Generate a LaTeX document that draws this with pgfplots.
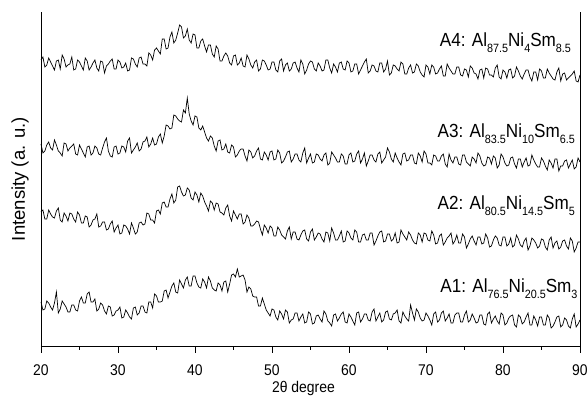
\documentclass[border=0pt]{standalone}
\usepackage{pgfplots}
\pgfplotsset{compat=1.18}
\usepackage{fontspec}
\setmainfont{Liberation Sans}
\newfontfamily\nf{Liberation Sans}[FakeStretch=0.9]
\newcommand\sub[1]{\raisebox{-6pt}{\fontsize{12}{12}\selectfont #1}}
\begin{document}
\begin{tikzpicture}
\path[use as bounding box] (-41pt,-50pt) rectangle (546pt,346pt);
\begin{axis}[
  scale only axis, width=539pt, height=334pt,
  xmin=20, xmax=90, ymin=54, ymax=388,
  axis x line*=bottom, axis y line*=box,
  xtick={20,30,...,90}, minor xtick={25,35,...,85},
  ytick=\empty,
  tick align=outside,
  major tick length=7pt, minor tick length=4pt,
  every tick/.style={black, line width=0.8pt},
  axis line style={black, line width=0.9pt},
  /pgf/number format/assume math mode=true,
  ticklabel style={font={\fontsize{15.5}{18}\nf}},
  xticklabel style={yshift=-8pt},
  every axis x label/.style={at={(axis description cs:0.487,-0.1395)}, anchor=base, inner sep=0pt, font={\fontsize{15.5}{18}\nf}},
  every axis y label/.style={at={(axis description cs:-0.039,0.5)}, anchor=center, rotate=90, font=\fontsize{18.5}{20}\selectfont},
  xlabel={2θ degree},
  ylabel={Intensity (a. u.)},
  clip=false,
]
% A4
\addplot[black, line width=0.7pt] coordinates {(20,340)(20.25,343)(20.5,333)(20.75,335)(21,342)(21.25,338)(21.5,334)(21.75,330)(22,339)(22.25,340)(22.5,331)(22.75,345)(23,341)(23.25,333)(23.5,335)(23.75,336)(24,343)(24.25,330)(24.5,331)(24.75,340)(25,338)(25.25,334)(25.5,330)(25.75,342)(26,339)(26.25,330)(26.5,333)(26.75,337)(27,340)(27.25,332)(27.5,329)(27.75,339)(28,338)(28.25,327)(28.5,334)(28.75,336)(29,339)(29.25,341)(29.5,331)(29.75,331)(30,340)(30.25,338)(30.5,332)(30.75,333)(31,337)(31.25,329)(31.5,330)(31.75,342)(32,341)(32.25,336)(32.5,333)(32.75,342)(33,343)(33.25,336)(33.5,336)(33.75,334)(34,347)(34.25,345)(34.5,340)(34.75,350)(35,352)(35.25,349)(35.5,346)(35.75,361)(36,361)(36.25,351)(36.5,352)(36.75,363)(37,368)(37.25,357)(37.5,360)(37.75,367)(38,375)(38.25,373)(38.5,362)(38.75,364)(39,371)(39.25,360)(39.5,357)(39.75,366)(40,365)(40.25,352)(40.5,352)(40.75,359)(41,361)(41.25,354)(41.5,348)(41.75,355)(42,355)(42.25,346)(42.5,343)(42.75,354)(43,351)(43.25,339)(43.5,339)(43.75,344)(44,347)(44.25,344)(44.5,337)(44.75,335)(45,344)(45.25,345)(45.5,335)(45.75,337)(46,342)(46.25,334)(46.5,333)(46.75,345)(47,341)(47.25,335)(47.5,332)(47.75,338)(48,340)(48.25,329)(48.5,331)(48.75,340)(49,339)(49.25,335)(49.5,330)(49.75,331)(50,338)(50.25,338)(50.5,330)(50.75,328)(51,339)(51.25,341)(51.5,329)(51.75,335)(52,337)(52.25,329)(52.5,331)(52.75,337)(53,338)(53.25,332)(53.5,328)(53.75,340)(54,336)(54.25,326)(54.5,330)(54.75,336)(55,339)(55.25,338)(55.5,331)(55.75,329)(56,337)(56.25,334)(56.5,329)(56.75,330)(57,340)(57.25,340)(57.5,332)(57.75,327)(58,336)(58.25,333)(58.5,328)(58.75,337)(59,338)(59.25,331)(59.5,330)(59.75,339)(60,337)(60.25,328)(60.5,329)(60.75,336)(61,336)(61.25,326)(61.5,330)(61.75,334)(62,338)(62.25,341)(62.5,327)(62.75,329)(63,335)(63.25,334)(63.5,329)(63.75,328)(64,337)(64.25,337)(64.5,328)(64.75,331)(65,339)(65.25,325)(65.5,327)(65.75,335)(66,334)(66.25,331)(66.5,329)(66.75,338)(67,336)(67.25,326)(67.5,326)(67.75,332)(68,335)(68.25,327)(68.5,328)(68.75,336)(69,334)(69.25,328)(69.5,325)(69.75,323)(70,335)(70.25,333)(70.5,326)(70.75,335)(71,333)(71.25,326)(71.5,327)(71.75,331)(72,334)(72.25,324)(72.5,324)(72.75,336)(73,332)(73.25,329)(73.5,326)(73.75,326)(74,333)(74.25,333)(74.5,325)(74.75,324)(75,331)(75.25,330)(75.5,323)(75.75,334)(76,332)(76.25,327)(76.5,326)(76.75,321)(77,330)(77.25,331)(77.5,322)(77.75,332)(78,331)(78.25,325)(78.5,325)(78.75,323)(79,332)(79.25,335)(79.5,323)(79.75,321)(80,330)(80.25,328)(80.5,322)(80.75,330)(81,331)(81.25,322)(81.5,324)(81.75,333)(82,329)(82.25,324)(82.5,321)(82.75,326)(83,330)(83.25,330)(83.5,323)(83.75,319)(84,328)(84.25,328)(84.5,320)(84.75,331)(85,329)(85.25,322)(85.5,322)(85.75,331)(86,327)(86.25,324)(86.5,321)(86.75,320)(87,328)(87.25,332)(87.5,319)(87.75,326)(88,327)(88.25,320)(88.5,322)(88.75,324)(89,326)(89.25,329)(89.5,319)(89.75,318)(90,325)};
% A3
\addplot[black, line width=0.7pt] coordinates {(20,256)(20.25,247)(20.5,249)(20.75,255)(21,258)(21.25,252)(21.5,250)(21.75,260)(22,255)(22.25,249)(22.5,247)(22.75,244)(23,257)(23.25,256)(23.5,249)(23.75,252)(24,254)(24.25,256)(24.5,246)(24.75,245)(25,255)(25.25,251)(25.5,247)(25.75,243)(26,253)(26.25,254)(26.5,245)(26.75,247)(27,254)(27.25,252)(27.5,246)(27.75,245)(28,252)(28.25,258)(28.5,262)(28.75,249)(29,244)(29.25,243)(29.5,253)(29.75,254)(30,246)(30.25,247)(30.5,254)(30.75,253)(31,248)(31.25,259)(31.5,262)(31.75,247)(32,250)(32.25,253)(32.5,257)(32.75,249)(33,251)(33.25,258)(33.5,259)(33.75,263)(34,253)(34.25,256)(34.5,262)(34.75,255)(35,256)(35.25,263)(35.5,266)(35.75,257)(36,264)(36.25,275)(36.5,274)(36.75,271)(37,272)(37.25,285)(37.5,284)(37.75,281)(38,279)(38.25,278)(38.5,290)(38.75,287)(39,302)(39.25,286)(39.5,279)(39.75,275)(40,284)(40.25,283)(40.5,272)(40.75,270)(41,274)(41.25,268)(41.5,262)(41.75,259)(42,264)(42.25,262)(42.5,254)(42.75,249)(43,259)(43.25,260)(43.5,250)(43.75,251)(44,256)(44.25,248)(44.5,247)(44.75,255)(45,253)(45.25,243)(45.5,245)(45.75,249)(46,251)(46.25,251)(46.5,244)(46.75,239)(47,250)(47.25,248)(47.5,242)(47.75,244)(48,249)(48.25,252)(48.5,241)(48.75,240)(49,248)(49.25,245)(49.5,240)(49.75,248)(50,249)(50.25,240)(50.5,241)(50.75,250)(51,247)(51.25,237)(51.5,239)(51.75,243)(52,248)(52.25,249)(52.5,238)(52.75,241)(53,246)(53.25,246)(53.5,240)(53.75,238)(54,247)(54.25,252)(54.5,237)(54.75,242)(55,246)(55.25,237)(55.5,238)(55.75,246)(56,245)(56.25,241)(56.5,239)(56.75,245)(57,247)(57.25,235)(57.5,237)(57.75,248)(58,245)(58.25,242)(58.5,238)(58.75,238)(59,246)(59.25,244)(59.5,236)(59.75,236)(60,245)(60.25,247)(60.5,238)(60.75,239)(61,246)(61.25,249)(61.5,237)(61.75,241)(62,247)(62.25,234)(62.5,239)(62.75,245)(63,245)(63.25,240)(63.5,238)(63.75,246)(64,248)(64.25,237)(64.5,240)(64.75,243)(65,252)(65.25,248)(65.5,241)(65.75,238)(66,247)(66.25,242)(66.5,238)(66.75,235)(67,246)(67.25,247)(67.5,239)(67.75,240)(68,245)(68.25,245)(68.5,237)(68.75,236)(69,247)(69.25,244)(69.5,238)(69.75,249)(70,246)(70.25,237)(70.5,237)(70.75,235)(71,245)(71.25,244)(71.5,239)(71.75,239)(72,244)(72.25,246)(72.5,236)(72.75,233)(73,246)(73.25,240)(73.5,237)(73.75,243)(74,243)(74.25,236)(74.5,235)(74.75,245)(75,245)(75.25,238)(75.5,236)(75.75,234)(76,243)(76.25,241)(76.5,237)(76.75,247)(77,244)(77.25,237)(77.5,234)(77.75,235)(78,243)(78.25,242)(78.5,236)(78.75,244)(79,242)(79.25,232)(79.5,235)(79.75,246)(80,243)(80.25,237)(80.5,234)(80.75,235)(81,242)(81.25,243)(81.5,236)(81.75,232)(82,241)(82.25,241)(82.5,233)(82.75,238)(83,242)(83.25,234)(83.5,235)(83.75,245)(84,240)(84.25,236)(84.5,233)(84.75,233)(85,242)(85.25,239)(85.5,234)(85.75,230)(86,240)(86.25,237)(86.5,232)(86.75,241)(87,241)(87.25,229)(87.5,234)(87.75,234)(88,239)(88.25,240)(88.5,232)(88.75,236)(89,240)(89.25,231)(89.5,233)(89.75,242)(90,238)};
% A2
\addplot[black, line width=0.7pt] coordinates {(20,188)(20.25,190)(20.5,181)(20.75,181)(21,190)(21.25,186)(21.5,183)(21.75,182)(22,189)(22.25,192)(22.5,180)(22.75,178)(23,187)(23.25,184)(23.5,179)(23.75,187)(24,186)(24.25,181)(24.5,178)(24.75,188)(25,185)(25.25,177)(25.5,177)(25.75,184)(26,183)(26.25,173)(26.5,175)(26.75,180)(27,181)(27.25,186)(27.5,173)(27.75,174)(28,178)(28.25,178)(28.5,170)(28.75,171)(29,176)(29.25,179)(29.5,168)(29.75,172)(30,175)(30.25,166)(30.5,167)(30.75,175)(31,174)(31.25,171)(31.5,166)(31.75,177)(32,172)(32.25,166)(32.5,168)(32.75,177)(33,178)(33.25,175)(33.5,176)(33.75,187)(34,186)(34.25,180)(34.5,180)(34.75,177)(35,189)(35.25,190)(35.5,186)(35.75,197)(36,198)(36.25,193)(36.5,193)(36.75,201)(37,206)(37.25,197)(37.5,200)(37.75,213)(38,214)(38.25,208)(38.5,204)(38.75,205)(39,212)(39.25,210)(39.5,202)(39.75,200)(40,208)(40.25,205)(40.5,198)(40.75,207)(41,204)(41.25,198)(41.5,194)(41.75,189)(42,199)(42.25,197)(42.5,190)(42.75,197)(43,196)(43.25,188)(43.5,187)(43.75,185)(44,192)(44.25,195)(44.5,184)(44.75,179)(45,189)(45.25,185)(45.5,181)(45.75,186)(46,186)(46.25,176)(46.5,178)(46.75,185)(47,182)(47.25,174)(47.5,174)(47.75,176)(48,179)(48.25,178)(48.5,171)(48.75,165)(49,175)(49.25,172)(49.5,167)(49.75,174)(50,172)(50.25,164)(50.5,164)(50.75,173)(51,170)(51.25,165)(51.5,163)(51.75,161)(52,169)(52.25,173)(52.5,161)(52.75,168)(53,168)(53.25,161)(53.5,160)(53.75,165)(54,169)(54.25,170)(54.5,161)(54.75,159)(55,168)(55.25,171)(55.5,160)(55.75,163)(56,167)(56.25,166)(56.5,161)(56.75,158)(57,168)(57.25,167)(57.5,159)(57.75,172)(58,167)(58.25,160)(58.5,160)(58.75,164)(59,169)(59.25,158)(59.5,159)(59.75,169)(60,167)(60.25,162)(60.5,160)(60.75,170)(61,168)(61.25,158)(61.5,158)(61.75,165)(62,166)(62.25,160)(62.5,160)(62.75,167)(63,167)(63.25,155)(63.5,159)(63.75,164)(64,168)(64.25,169)(64.5,158)(64.75,159)(65,166)(65.25,166)(65.5,159)(65.75,161)(66,167)(66.25,157)(66.5,158)(66.75,170)(67,166)(67.25,163)(67.5,160)(67.75,168)(68,165)(68.25,160)(68.5,157)(68.75,156)(69,167)(69.25,165)(69.5,158)(69.75,167)(70,166)(70.25,160)(70.5,159)(70.75,169)(71,165)(71.25,156)(71.5,157)(71.75,164)(72,166)(72.25,155)(72.5,158)(72.75,162)(73,164)(73.25,167)(73.5,156)(73.75,159)(74,165)(74.25,157)(74.5,157)(74.75,166)(75,163)(75.25,152)(75.5,156)(75.75,161)(76,164)(76.25,159)(76.5,155)(76.75,163)(77,163)(77.25,156)(77.5,157)(77.75,166)(78,162)(78.25,153)(78.5,154)(78.75,160)(79,164)(79.25,162)(79.5,155)(79.75,154)(80,163)(80.25,163)(80.5,154)(80.75,156)(81,162)(81.25,153)(81.5,155)(81.75,165)(82,161)(82.25,155)(82.5,153)(82.75,159)(83,162)(83.25,150)(83.5,154)(83.75,162)(84,160)(84.25,157)(84.5,152)(84.75,154)(85,161)(85.25,160)(85.5,153)(85.75,150)(86,160)(86.25,163)(86.5,152)(86.75,157)(87,159)(87.25,151)(87.5,153)(87.75,159)(88,160)(88.25,154)(88.5,151)(88.75,162)(89,159)(89.25,148)(89.5,152)(89.75,158)(90,158)};
% A1
\addplot[black, line width=0.7pt] coordinates {(20,98)(20.25,90)(20.5,91)(20.75,99)(21,97)(21.25,93)(21.5,90)(21.75,97)(22,108)(22.25,87)(22.5,91)(22.75,99)(23,96)(23.25,93)(23.5,88)(23.75,88)(24,95)(24.25,95)(24.5,90)(24.75,89)(25,99)(25.25,103)(25.5,97)(25.75,97)(26,106)(26.25,108)(26.5,98)(26.75,98)(27,101)(27.25,89)(27.5,91)(27.75,97)(28,95)(28.25,89)(28.5,86)(28.75,94)(29,93)(29.25,84)(29.5,85)(29.75,89)(30,90)(30.25,93)(30.5,82)(30.75,83)(31,90)(31.25,87)(31.5,83)(31.75,81)(32,92)(32.25,93)(32.5,85)(32.75,87)(33,94)(33.25,94)(33.5,88)(33.75,87)(34,98)(34.25,98)(34.5,92)(34.75,106)(35,104)(35.25,98)(35.5,98)(35.75,99)(36,109)(36.25,110)(36.5,102)(36.75,108)(37,114)(37.25,117)(37.5,108)(37.75,107)(38,120)(38.25,116)(38.5,112)(38.75,120)(39,123)(39.25,114)(39.5,114)(39.75,124)(40,124)(40.25,117)(40.5,113)(40.75,112)(41,121)(41.25,118)(41.5,112)(41.75,123)(42,119)(42.25,112)(42.5,110)(42.75,109)(43,117)(43.25,115)(43.5,109)(43.75,118)(44,119)(44.25,108)(44.5,116)(44.75,125)(45,126)(45.25,123)(45.5,131)(45.75,123)(46,124)(46.25,125)(46.5,120)(46.75,108)(47,113)(47.25,111)(47.5,104)(47.75,103)(48,103)(48.25,94)(48.5,94)(48.75,102)(49,96)(49.25,90)(49.5,87)(49.75,84)(50,91)(50.25,90)(50.5,83)(50.75,80)(51,89)(51.25,86)(51.5,81)(51.75,90)(52,88)(52.25,77)(52.5,80)(52.75,81)(53,87)(53.25,87)(53.5,79)(53.75,83)(54,86)(54.25,77)(54.5,78)(54.75,88)(55,86)(55.25,76)(55.5,77)(55.75,84)(56,85)(56.25,81)(56.5,78)(56.75,89)(57,86)(57.25,79)(57.5,77)(57.75,74)(58,85)(58.25,86)(58.5,79)(58.75,82)(59,86)(59.25,88)(59.5,78)(59.75,77)(60,86)(60.25,83)(60.5,79)(60.75,75)(61,87)(61.25,88)(61.5,78)(61.75,81)(62,86)(62.25,86)(62.5,80)(62.75,79)(63,88)(63.25,91)(63.5,79)(63.75,83)(64,87)(64.25,78)(64.5,80)(64.75,88)(65,89)(65.25,81)(65.5,80)(65.75,86)(66,87)(66.25,90)(66.5,79)(66.75,77)(67,88)(67.25,84)(67.5,81)(67.75,79)(68,95)(68.25,87)(68.5,80)(68.75,91)(69,88)(69.25,82)(69.5,79)(69.75,80)(70,87)(70.25,84)(70.5,80)(70.75,75)(71,86)(71.25,88)(71.5,78)(71.75,80)(72,87)(72.25,89)(72.5,79)(72.75,82)(73,86)(73.25,77)(73.5,77)(73.75,85)(74,87)(74.25,87)(74.5,78)(74.75,78)(75,85)(75.25,89)(75.5,78)(75.75,80)(76,86)(76.25,82)(76.5,77)(76.75,78)(77,85)(77.25,85)(77.5,76)(77.75,75)(78,86)(78.25,88)(78.5,77)(78.75,81)(79,84)(79.25,79)(79.5,76)(79.75,87)(80,85)(80.25,75)(80.5,77)(80.75,82)(81,84)(81.25,85)(81.5,75)(81.75,73)(82,85)(82.25,83)(82.5,76)(82.75,78)(83,83)(83.25,87)(83.5,75)(83.75,75)(84,84)(84.25,80)(84.5,74)(84.75,83)(85,83)(85.25,75)(85.5,75)(85.75,85)(86,82)(86.25,72)(86.5,74)(86.75,78)(87,83)(87.25,84)(87.5,73)(87.75,75)(88,82)(88.25,80)(88.5,74)(88.75,72)(89,81)(89.25,86)(89.5,73)(89.75,76)(90,80)};
\node[anchor=base east, inner sep=0, font={\fontsize{19}{20}\nf}] at (axis cs:88.85,353) {A4: Al\sub{87.5}Ni\sub{4}Sm\sub{8.5}};
\node[anchor=base east, inner sep=0, font={\fontsize{19}{20}\nf}] at (axis cs:89.35,262) {A3: Al\sub{83.5}Ni\sub{10}Sm\sub{6.5}};
\node[anchor=base east, inner sep=0, font={\fontsize{19}{20}\nf}] at (axis cs:89.35,190) {A2: Al\sub{80.5}Ni\sub{14.5}Sm\sub{5}};
\node[anchor=base east, inner sep=0, font={\fontsize{19}{20}\nf}] at (axis cs:89.7,107) {A1: Al\sub{76.5}Ni\sub{20.5}Sm\sub{3}};
\end{axis}
\end{tikzpicture}
\end{document}
